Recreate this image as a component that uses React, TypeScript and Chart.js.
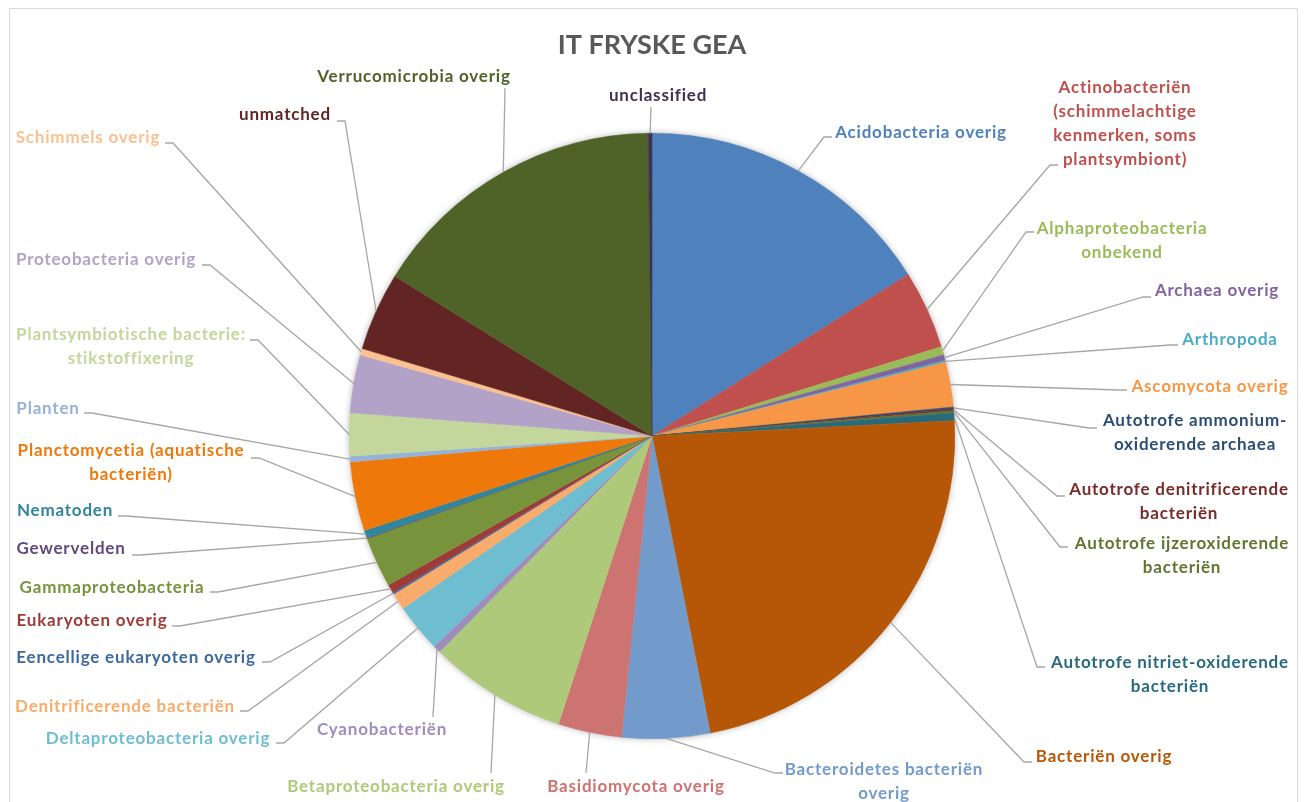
import React, { useEffect, useRef } from "react";
import { Chart, registerables } from "chart.js";

Chart.register(...registerables);

const chartTitle = "IT FRYSKE GEA";

const categories = [
  "Acidobacteria overig",
  "Actinobacteriën (schimmelachtige kenmerken, soms plantsymbiont)",
  "Alphaproteobacteria onbekend",
  "Archaea overig",
  "Arthropoda",
  "Ascomycota overig",
  "Autotrofe ammonium-oxiderende archaea",
  "Autotrofe denitrificerende bacteriën",
  "Autotrofe ijzeroxiderende bacteriën",
  "Autotrofe nitriet-oxiderende bacteriën",
  "Bacteriën overig",
  "Bacteroidetes bacteriën overig",
  "Basidiomycota overig",
  "Betaproteobacteria overig",
  "Cyanobacteriën",
  "Deltaproteobacteria overig",
  "Denitrificerende bacteriën",
  "Eencellige eukaryoten overig",
  "Eukaryoten overig",
  "Gammaproteobacteria",
  "Gewervelden",
  "Nematoden",
  "Planctomycetia (aquatische bacteriën)",
  "Planten",
  "Plantsymbiotische bacterie: stikstoffixering",
  "Proteobacteria overig",
  "Schimmels overig",
  "unmatched",
  "Verrucomicrobia overig",
  "unclassified",
];

// label text as shown (line breaks)
const labelText = [
  ["Acidobacteria overig"],
  ["Actinobacteriën", "(schimmelachtige", "kenmerken, soms", "plantsymbiont)"],
  ["Alphaproteobacteria", "onbekend"],
  ["Archaea overig"],
  ["Arthropoda"],
  ["Ascomycota overig"],
  ["Autotrofe ammonium-", "oxiderende archaea"],
  ["Autotrofe denitrificerende", "bacteriën"],
  ["Autotrofe ijzeroxiderende", "bacteriën"],
  ["Autotrofe nitriet-oxiderende", "bacteriën"],
  ["Bacteriën overig"],
  ["Bacteroidetes bacteriën", "overig"],
  ["Basidiomycota overig"],
  ["Betaproteobacteria overig"],
  ["Cyanobacteriën"],
  ["Deltaproteobacteria overig"],
  ["Denitrificerende bacteriën"],
  ["Eencellige eukaryoten overig"],
  ["Eukaryoten overig"],
  ["Gammaproteobacteria"],
  ["Gewervelden"],
  ["Nematoden"],
  ["Planctomycetia (aquatische", "bacteriën)"],
  ["Planten"],
  ["Plantsymbiotische bacterie:", "stikstoffixering"],
  ["Proteobacteria overig"],
  ["Schimmels overig"],
  ["unmatched"],
  ["Verrucomicrobia overig"],
  ["unclassified"],
];

// share (%) per category
const values = [
  16.1, 4.2, 0.45, 0.3, 0.1, 2.4, 0.1, 0.1, 0.12, 0.4,
  22.8, 4.7, 3.4, 7.4, 0.4, 2.6, 0.9, 0.1, 0.45, 2.7,
  0.05, 0.4, 3.7, 0.3, 2.3, 3.1, 0.35, 4.2, 16.0, 0.2,
];

const colors = [
  "#4F81BD", "#C0504D", "#9BBB59", "#8064A2", "#4BACC6", "#F79646",
  "#2C4D75", "#772C2A", "#5F7530", "#276A7C", "#B65708", "#729ACA",
  "#CD7371", "#AFC97A", "#A08CBB", "#6FBDD1", "#F9AB6B", "#3C6AA0",
  "#9E3A37", "#77933C", "#604A7B", "#31859C", "#EE780A", "#95B3D7",
  "#C3D69B", "#B3A2C7", "#FAC090", "#632523", "#4F6228", "#3F3151",
];

// label layout: [text centre x, first line y, attach x, attach y, tick]
const labelLayout: number[][] = [
  [921, 133, 832, 137, -8],
  [1125, 88, 1058, 165, -8],
  [1122, 229, 1034, 232, -8],
  [1217, 291, 1151, 297, -8],
  [1230, 340, 1178, 345, -8],
  [1210, 387, 1127, 390, -8],
  [1195, 421, 1097, 428, -8],
  [1179, 490, 1065, 496, -8],
  [1182, 544, 1068, 547, -8],
  [1170, 663, 1045, 667, -8],
  [1104, 757, 1032, 762, -8],
  [884, 770, 783, 773, -8],
  [636, 787, 586, 773, 0],
  [396, 787, 491, 773, 0],
  [382, 730, 433, 717, 0],
  [158, 739, 276, 743, 8],
  [125, 707, 240, 711, 8],
  [136, 658, 262, 662, 8],
  [92, 621, 172, 626, 8],
  [112, 588, 210, 592, 8],
  [71, 549, 132, 555, 8],
  [65, 511, 118, 516, 8],
  [131, 451, 251, 458, 8],
  [48, 409, 84, 413, 8],
  [131, 335, 250, 340, 8],
  [106, 260, 202, 265, 8],
  [88, 138, 165, 143, 8],
  [285, 115, 337, 121, 8],
  [414, 77, 505, 88, 0],
  [658, 96, 651, 107, 0],
];

const LABEL_FONT = "bold 17px Lato";
const LABEL_SPACING = "0.8px";
const LINE_H = 24;

const decorPlugin = {
  id: "decor",
  beforeDraw(chart: any) {
    const ctx = chart.ctx;
    ctx.save();
    ctx.fillStyle = "#ffffff";
    ctx.fillRect(0, 0, chart.width, chart.height);
    ctx.strokeStyle = "#D9D9D9";
    ctx.lineWidth = 1;
    ctx.strokeRect(9.5, 8.5, 1288, 820);
    ctx.fillStyle = "#595959";
    ctx.font = "bold 27px Lato";
    ctx.textAlign = "center";
    ctx.textBaseline = "middle";
    ctx.fillText(chartTitle, 652, 45);
    ctx.restore();
  },
  beforeDatasetsDraw(chart: any) {
    const meta = chart.getDatasetMeta(0);
    const a = meta.data[0];
    if (!a) return;
    const ctx = chart.ctx;
    ctx.save();
    ctx.shadowColor = "rgba(0,0,0,0.35)";
    ctx.shadowBlur = 7;
    ctx.fillStyle = "#ffffff";
    ctx.beginPath();
    ctx.arc(a.x, a.y, a.outerRadius - 0.5, 0, Math.PI * 2);
    ctx.fill();
    ctx.restore();
  },
  afterDatasetsDraw(chart: any) {
    const meta = chart.getDatasetMeta(0);
    const ctx = chart.ctx;
    ctx.save();
    meta.data.forEach((arc: any, i: number) => {
      const lay = labelLayout[i];
      if (!lay) return;
      const [cx, y1, ax, ay, tick] = lay;
      const mid = (arc.startAngle + arc.endAngle) / 2;
      const px = arc.x + Math.cos(mid) * arc.outerRadius;
      const py = arc.y + Math.sin(mid) * arc.outerRadius;
      ctx.strokeStyle = "#A6A6A6";
      ctx.lineWidth = 1.3;
      ctx.beginPath();
      ctx.moveTo(px, py);
      if (tick !== 0) {
        ctx.lineTo(ax + tick, ay);
      }
      ctx.lineTo(ax, ay);
      ctx.stroke();
      ctx.fillStyle = colors[i];
      ctx.font = LABEL_FONT;
      (ctx as any).letterSpacing = LABEL_SPACING;
      ctx.textAlign = "center";
      ctx.textBaseline = "middle";
      labelText[i].forEach((t, k) => {
        ctx.fillText(t, cx, y1 + k * LINE_H);
      });
      (ctx as any).letterSpacing = "0px";
    });
    ctx.restore();
  },
};

export default function App() {
  const ref = useRef<HTMLCanvasElement | null>(null);
  useEffect(() => {
    if (!ref.current) return;
    document.body.style.overflow = "hidden";
    const chart = new Chart(ref.current, {
      type: "pie",
      data: {
        labels: categories,
        datasets: [
          {
            data: values,
            backgroundColor: colors,
            borderColor: colors,
            borderWidth: 0.5,
          },
        ],
      },
      options: {
        responsive: false,
        animation: false,
        layout: { padding: { left: 300, right: 303, top: 133, bottom: 63 } },
        plugins: {
          legend: { display: false },
          title: { display: false },
          tooltip: { enabled: false },
        },
      },
      plugins: [decorPlugin],
    });
    return () => chart.destroy();
  }, []);
  return (
    <div style={{ position: "absolute", left: 0, top: 0, width: 1307, height: 802, overflow: "hidden" }}>
      <canvas ref={ref} width={1307} height={802} style={{ display: "block" }} />
    </div>
  );
}
